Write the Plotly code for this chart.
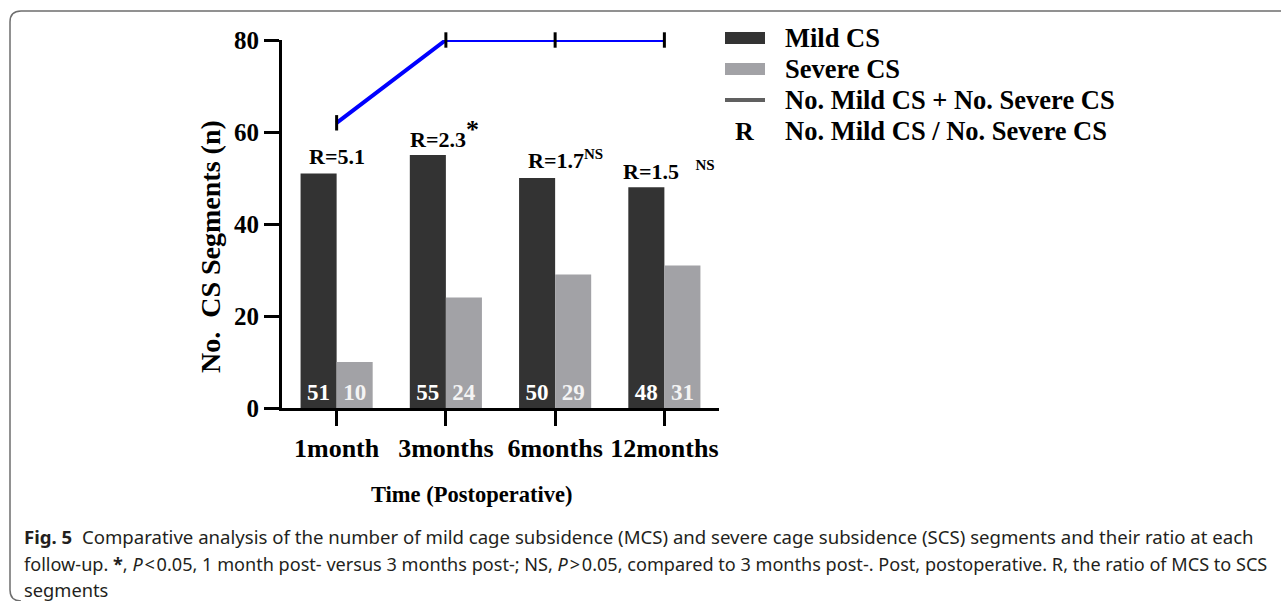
import plotly.graph_objects as go

# ---- data ----
categories = ["1month", "3months", "6months", "12months"]
mild_cs = [51, 55, 50, 48]
severe_cs = [10, 24, 29, 31]
total_cs = [62, 80, 80, 80]          # line as drawn in the picture
ratio_labels = ["R=5.1", "R=2.3", "R=1.7", "R=1.5"]
ratio_marks = ["", "*", "NS", "NS"]
y_ticks = [0, 20, 40, 60, 80]

legend_names = ["Mild CS", "Severe CS", "No. Mild CS + No. Severe CS", "No. Mild CS / No. Severe CS"]

caption_lines = [
    "<b>Fig. 5</b>  Comparative analysis of the number of mild cage subsidence (MCS) and severe cage subsidence (SCS) segments and their ratio at each",
    "follow-up. <b>*</b>, <i>P</i>\u200a<\u200a0.05, 1 month post- versus 3 months post-; NS, <i>P</i>\u200a>\u200a0.05, compared to 3 months post-. Post, postoperative. R, the ratio of MCS to SCS",
    "segments",
]

# ---- geometry (pixels) ----
W, H = 1281, 601
L, R_, T, B = 282, 719, 40, 408
PW, PH = R_ - L, B - T


def px(x):
    return (x - L) / PW


def py(y):
    return (B - y) / PH


SERIF = "Liberation Serif"
SANS = "Noto Sans"
MILD_COL = "#333333"
SEV_COL = "#a2a2a6"

fig = go.Figure()

fig.add_trace(go.Bar(
    x=categories, y=mild_cs, name=legend_names[0],
    marker=dict(color=MILD_COL, line=dict(width=0)),
    text=[str(v) for v in mild_cs], textposition="inside", insidetextanchor="start",
    textangle=0, textfont=dict(family=SERIF, size=23, color="white", weight="bold"),
    showlegend=False,
))
fig.add_trace(go.Bar(
    x=categories, y=severe_cs, name=legend_names[1],
    marker=dict(color=SEV_COL, line=dict(width=0)),
    text=[str(v) for v in severe_cs], textposition="inside", insidetextanchor="start",
    textangle=0, textfont=dict(family=SERIF, size=23, color="#f4f4f4", weight="bold"),
    showlegend=False,
))
fig.add_trace(go.Scatter(
    x=categories, y=total_cs, mode="lines+markers", name=legend_names[2],
    line=dict(color="#0000ff", width=4),
    marker=dict(symbol="line-ns", size=11, color="black", line=dict(color="black", width=3)),
    cliponaxis=False, showlegend=False,
))

fig.update_layout(
    width=W, height=H,
    margin=dict(l=L, r=W - R_, t=T, b=H - B, pad=0),
    paper_bgcolor="white", plot_bgcolor="white",
    barmode="group", bargap=0.34, bargroupgap=0,
    font=dict(family=SERIF, color="black"),
    xaxis=dict(
        type="category", range=[-0.5, 3.5], showgrid=False, zeroline=False,
        showline=True, linecolor="black", linewidth=3,
        ticks="outside", ticklen=15, tickwidth=3, tickcolor="black",
        tickfont=dict(family=SERIF, size=26, color="black", weight="bold"),
    ),
    yaxis=dict(
        range=[0, 80], tickvals=y_ticks, showgrid=False, zeroline=False,
        showline=True, linecolor="black", linewidth=3,
        ticks="outside", ticklen=15, tickwidth=3, tickcolor="black",
        tickfont=dict(family=SERIF, size=25, color="black", weight="bold"),
    ),
)

# ratio annotations above bars
r_pos = [(0, 54.6, 0), (1, 59.6, -1), (2, 54.1, 10), (3, 51.7, 5)]
for (i, yv, xs), lab, mk in zip(r_pos, ratio_labels, ratio_marks):
    if mk == "":
        txt = lab
    elif mk == "*":
        txt = lab + "<sup><span style='font-size:26px'>*</span></sup>"
    elif i == 3:
        txt = lab + "   <sup><span style='font-size:15px'>" + mk + "</span></sup>"
    else:
        txt = lab + "<sup><span style='font-size:15px'>" + mk + "</span></sup>"
    fig.add_annotation(
        x=categories[i], y=yv, xref="x", yref="y", text=txt, showarrow=False,
        xshift=xs, font=dict(family=SERIF, size=22, color="black", weight="bold"),
        xanchor="center", yanchor="middle",
    )

# axis titles
fig.add_annotation(
    x=px(210), y=py(247), xref="paper", yref="paper", text="No.  CS Segments (n)",
    textangle=-90, showarrow=False, xanchor="center", yanchor="middle",
    font=dict(family=SERIF, size=28, color="black", weight="bold"),
)
fig.add_annotation(
    x=px(471), y=py(495), xref="paper", yref="paper", text="Time (Postoperative)",
    showarrow=False, xanchor="center", yanchor="middle",
    font=dict(family=SERIF, size=22.5, color="black", weight="bold"),
)

# legend (drawn manually)
leg_y = [38, 69, 100, 131]
fig.add_shape(type="rect", xref="paper", yref="paper",
              x0=px(725), x1=px(765), y0=py(leg_y[0] - 6), y1=py(leg_y[0] + 6),
              fillcolor=MILD_COL, line=dict(width=0))
fig.add_shape(type="rect", xref="paper", yref="paper",
              x0=px(725), x1=px(765), y0=py(leg_y[1] - 6), y1=py(leg_y[1] + 6),
              fillcolor=SEV_COL, line=dict(width=0))
fig.add_shape(type="rect", xref="paper", yref="paper",
              x0=px(725), x1=px(765), y0=py(leg_y[2] - 2), y1=py(leg_y[2] + 2),
              fillcolor="#606060", line=dict(width=0))
fig.add_annotation(x=px(744), y=py(leg_y[3]), xref="paper", yref="paper", text="R",
                   showarrow=False, xanchor="center", yanchor="middle",
                   font=dict(family=SERIF, size=26, color="black", weight="bold"))
for name, yy in zip(legend_names, leg_y):
    fig.add_annotation(x=px(783), y=py(yy), xref="paper", yref="paper", text=name,
                       showarrow=False, xanchor="left", yanchor="middle",
                       font=dict(family=SERIF, size=26.5, color="black", weight="bold"))

# caption
cap_y = [536, 564, 589]
cap_size = [18.6, 18.1, 18.3]
for line, yy, fs in zip(caption_lines, cap_y, cap_size):
    fig.add_annotation(x=px(22), y=py(yy), xref="paper", yref="paper", text=line,
                       showarrow=False, xanchor="left", yanchor="middle",
                       font=dict(family=SANS, size=fs, color="#231f20"))

# rounded frame
def P(x, y):
    return f"{px(x)} {py(y)}"

frame_path = (f"M {P(1295, 11)} L {P(21, 11)} Q {P(10, 11)} {P(10, 22)} "
              f"L {P(10, 590)} Q {P(10, 601)} {P(21, 601)}")
fig.add_shape(type="path", xref="paper", yref="paper", path=frame_path,
              line=dict(color="#6e6e6e", width=1.5))

fig.write_html("out.html")
